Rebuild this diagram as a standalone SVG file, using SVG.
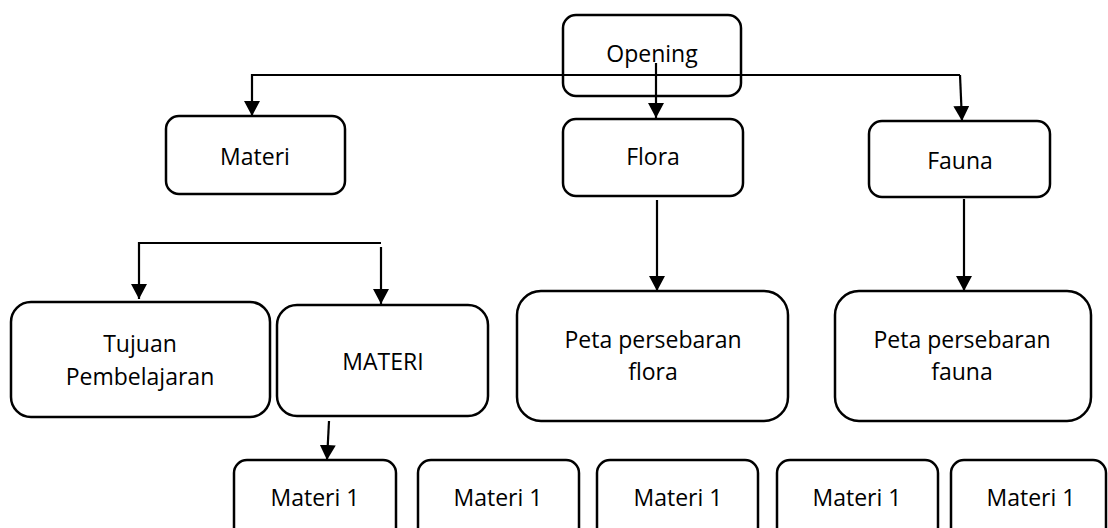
<svg xmlns="http://www.w3.org/2000/svg" width="1108" height="528" viewBox="0 0 1108 528">
<style>
.box{fill:#fff;stroke:#000;stroke-width:2.5}
.lbl{font-family:"Open Sans","Noto Sans",sans-serif;font-size:23px;fill:#000;text-anchor:middle}
.con{fill:none;stroke:#000;stroke-width:2.2}
</style>
<defs>
<marker id="ah" markerUnits="userSpaceOnUse" markerWidth="16" markerHeight="16" viewBox="0 0 16 16" refX="15" refY="8" orient="auto">
<path d="M0,0 L15,8 L0,16 Z" fill="#000"/>
</marker>
</defs>
<rect width="1108" height="528" fill="#fff"/>
<g id="node-opening"><rect class="box" x="563" y="15" width="178" height="81" rx="13"/><text class="lbl" x="652" y="62">Opening</text></g>
<g id="node-materi"><rect class="box" x="166" y="116" width="179" height="78" rx="13"/><text class="lbl" x="255" y="165">Materi</text></g>
<g id="node-flora"><rect class="box" x="563" y="119" width="180" height="77" rx="13"/><text class="lbl" x="653" y="165">Flora</text></g>
<g id="node-fauna"><rect class="box" x="869" y="121" width="181" height="76" rx="13"/><text class="lbl" x="960" y="169">Fauna</text></g>
<g id="node-tujuan"><rect class="box" x="11" y="302" width="259" height="115" rx="20"/><text class="lbl" x="140" y="352">Tujuan</text><text class="lbl" x="140" y="385">Pembelajaran</text></g>
<g id="node-materi-upper"><rect class="box" x="277" y="305" width="211" height="111" rx="20"/><text class="lbl" x="383" y="370">MATERI</text></g>
<g id="node-peta-flora"><rect class="box" x="517" y="291" width="271" height="130" rx="24"/><text class="lbl" x="653" y="348">Peta persebaran</text><text class="lbl" x="653" y="380">flora</text></g>
<g id="node-peta-fauna"><rect class="box" x="835" y="291" width="256" height="130" rx="24"/><text class="lbl" x="962" y="348">Peta persebaran</text><text class="lbl" x="962" y="380">fauna</text></g>
<g id="node-m1a"><rect class="box" x="234" y="460" width="162" height="90" rx="13"/><text class="lbl" x="315" y="506">Materi 1</text></g>
<g id="node-m1b"><rect class="box" x="418" y="460" width="161" height="90" rx="13"/><text class="lbl" x="498" y="506">Materi 1</text></g>
<g id="node-m1c"><rect class="box" x="597" y="460" width="161" height="90" rx="13"/><text class="lbl" x="678" y="506">Materi 1</text></g>
<g id="node-m1d"><rect class="box" x="777" y="460" width="161" height="90" rx="13"/><text class="lbl" x="857" y="506">Materi 1</text></g>
<g id="node-m1e"><rect class="box" x="951" y="460" width="155" height="90" rx="13"/><text class="lbl" x="1031" y="506">Materi 1</text></g>
<g id="connectors">
<path class="con" d="M960,75 L252,75 L252,116" marker-end="url(#ah)"/>
<path class="con" d="M960,75 L962,121" marker-end="url(#ah)"/>
<path class="con" d="M656,63 L656,118" marker-end="url(#ah)"/>
<path class="con" d="M657,200 L657,291" marker-end="url(#ah)"/>
<path class="con" d="M964,199 L964,291" marker-end="url(#ah)"/>
<path class="con" d="M381,243 L139,243 L139,299" marker-end="url(#ah)"/>
<path class="con" d="M381,247 L381,304" marker-end="url(#ah)"/>
<path class="con" d="M329,421 L327,460" marker-end="url(#ah)"/>
</g>
</svg>
